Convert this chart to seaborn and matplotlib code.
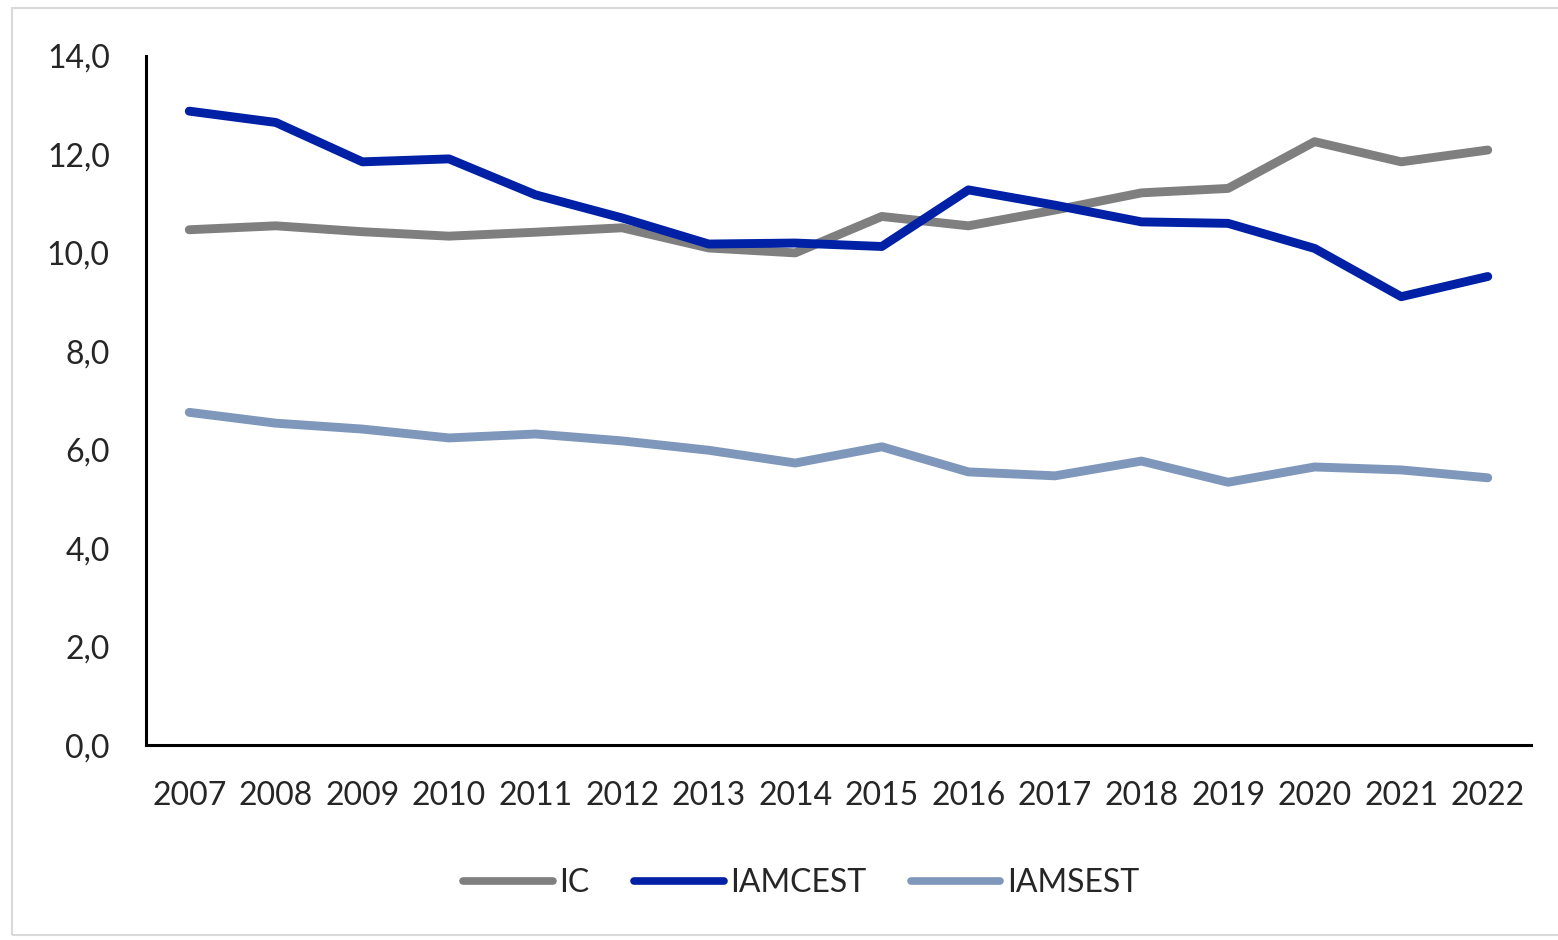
"""Line chart: IC, IAMCEST and IAMSEST by year."""

import matplotlib.pyplot as plt
import pandas as pd
import seaborn as sns
from matplotlib.patches import Rectangle
from matplotlib.ticker import FuncFormatter

YEARS = list(range(2007, 2023))
IC = [10.47, 10.55, 10.43, 10.34, 10.42, 10.51, 10.10, 10.00,
      10.74, 10.55, 10.87, 11.22, 11.31, 12.26, 11.85, 12.09]
IAMCEST = [12.88, 12.65, 11.85, 11.91, 11.18, 10.71, 10.18, 10.20,
           10.13, 11.28, 10.97, 10.63, 10.60, 10.09, 9.11, 9.52]
IAMSEST = [6.76, 6.54, 6.42, 6.24, 6.32, 6.18, 5.99, 5.73,
           6.06, 5.55, 5.47, 5.77, 5.34, 5.65, 5.59, 5.43]
SERIES = ["IC", "IAMCEST", "IAMSEST"]
COLORS = ["#7F7F7F", "#0021A5", "#7F97BB"]
Y_TICKS = [0, 2, 4, 6, 8, 10, 12, 14]

df = pd.DataFrame({
    "year": YEARS * 3,
    "value": IC + IAMCEST + IAMSEST,
    "serie": [s for s in SERIES for _ in YEARS],
})

sns.set_style("white")
plt.rcParams["font.family"] = ["Lato", "DejaVu Sans"]

fig = plt.figure(figsize=(15.58, 9.4), dpi=100)
ax = fig.add_axes([0.0937, 0.2074, 0.889, 0.733])

sns.lineplot(
    data=df, x="year", y="value", hue="serie", hue_order=SERIES,
    palette=COLORS, linewidth=6.4, ax=ax, legend=True,
)
for line in ax.get_lines():
    line.set_solid_capstyle("round")

ax.set_xlim(YEARS[0] - 0.5, YEARS[-1] + 0.5)
ax.set_ylim(0, 14)
ax.set_xticks(YEARS)
ax.set_xticklabels([str(y) for y in YEARS])
ax.set_yticks(Y_TICKS)
ax.yaxis.set_major_formatter(FuncFormatter(lambda v, _: f"{v:.1f}".replace(".", ",")))
ax.tick_params(axis="both", length=0, labelsize=23, colors="#262626")
ax.tick_params(axis="y", pad=26)
ax.tick_params(axis="x", pad=26)
ax.set_xlabel("")
ax.set_ylabel("")

for side in ("top", "right"):
    ax.spines[side].set_visible(False)
for side in ("left", "bottom"):
    ax.spines[side].set_color("black")
    ax.spines[side].set_linewidth(2.2)

handles, labels = ax.get_legend_handles_labels()
for h in handles:
    h.set_solid_capstyle("round")
    h.set_linewidth(5.5)
ax.legend(
    handles, labels, loc="center", bbox_to_anchor=(0.473, -0.2),
    ncol=3, frameon=False, fontsize=23, handlelength=2.8,
    handletextpad=0.2, columnspacing=1.4,
)

fig.patches.append(Rectangle((0.008, 0.005), 0.995, 0.986, transform=fig.transFigure,
                             fill=False, edgecolor="#D9D9D9", linewidth=1.5))

fig.savefig("out.png", dpi=100)
plt.close(fig)
